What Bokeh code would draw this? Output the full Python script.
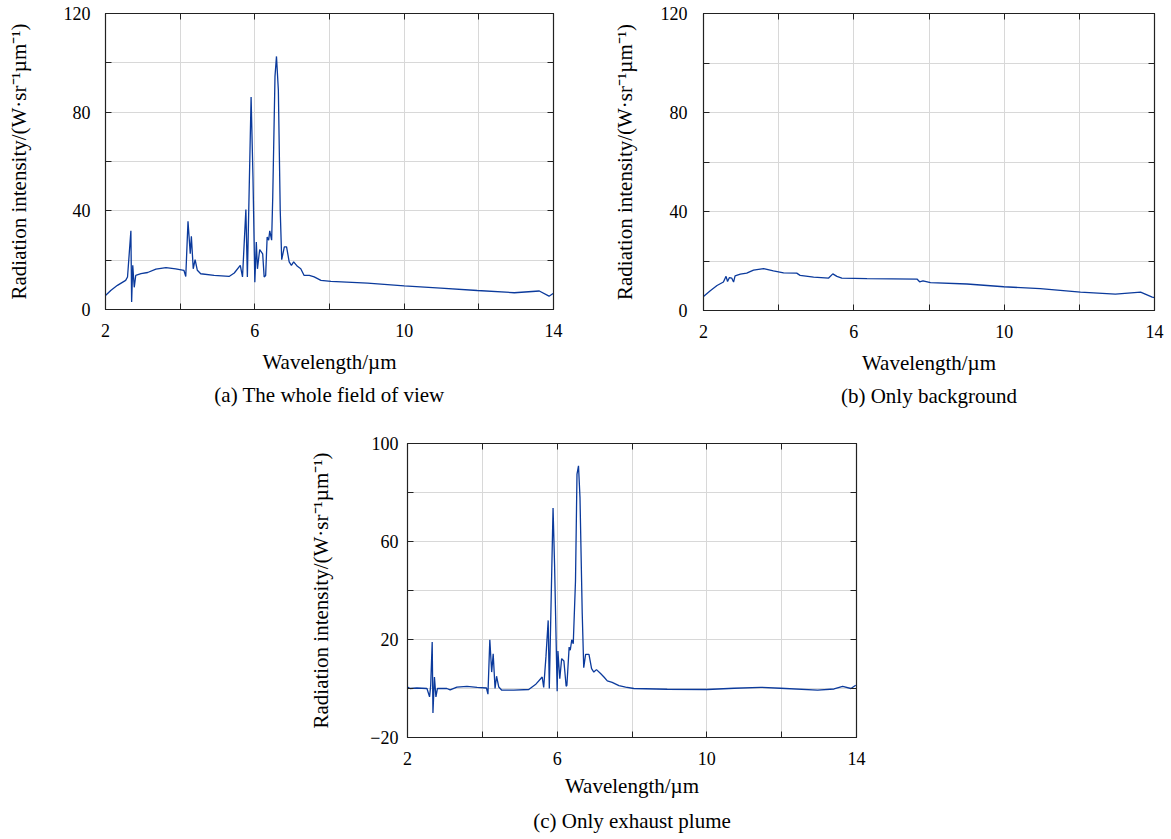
from bokeh.plotting import figure
from bokeh.models import FixedTicker, LinearAxis, Title, Range1d
from bokeh.layouts import column, row
from bokeh.embed import file_html
from bokeh.resources import INLINE

# ---------------- data ----------------
wl_a = [2.0, 2.14, 2.32, 2.54, 2.59, 2.68, 2.70, 2.73, 2.77, 2.81, 2.95, 3.13, 3.35, 3.62, 3.88,
        4.10, 4.15, 4.21, 4.27, 4.30, 4.35, 4.40, 4.46, 4.55, 4.91, 5.31, 5.45, 5.61, 5.67, 5.76,
        5.80, 5.90, 5.95, 6.00, 6.04, 6.07, 6.13, 6.21, 6.25, 6.29, 6.33, 6.37, 6.40, 6.45, 6.48,
        6.54, 6.58, 6.63, 6.68, 6.72, 6.79, 6.85, 6.92, 6.98, 7.04, 7.14, 7.23, 7.32, 7.46, 7.59,
        7.77, 8.04, 9.02, 10.0, 10.98, 11.96, 12.95, 13.62, 13.88, 14.0]
ri_a = [5.7, 7.7, 9.8, 11.8, 13.2, 31.9, 3.0, 17.9, 9.0, 13.8, 14.5, 15.0, 16.4, 17.0, 16.5,
        15.9, 13.4, 35.8, 22.6, 29.7, 16.5, 20.2, 15.9, 14.5, 13.8, 13.4, 14.8, 17.9, 13.2, 40.5,
        13.2, 86.1, 53.8, 11.1, 27.4, 16.5, 24.3, 22.6, 13.2, 13.8, 29.4, 28.1, 31.9, 28.1, 45.7,
        94.5, 102.6, 89.0, 40.3, 20.2, 25.4, 25.4, 19.3, 17.9, 19.3, 17.5, 16.5, 13.8, 13.8, 13.2,
        11.8, 11.4, 10.7, 9.6, 8.7, 7.7, 6.8, 7.5, 5.4, 6.6]

wl_b = [2.0, 2.18, 2.36, 2.53, 2.60, 2.64, 2.69, 2.75, 2.80, 2.84, 2.98, 3.15, 3.33, 3.60, 3.86,
        4.13, 4.48, 4.57, 4.93, 5.33, 5.44, 5.55, 5.68, 6.35, 7.68, 7.75, 7.84, 8.04, 9.01, 9.99,
        10.96, 12.03, 12.96, 13.63, 13.94, 14.0]
ri_b = [5.7, 8.0, 10.1, 11.5, 13.8, 11.7, 13.3, 13.1, 11.5, 14.0, 14.7, 15.1, 16.3, 16.9, 16.0,
        15.2, 15.1, 14.2, 13.5, 13.1, 14.8, 13.8, 13.1, 12.9, 12.7, 11.6, 12.0, 11.3, 10.7, 9.6,
        8.8, 7.4, 6.6, 7.4, 5.4, 5.2]

wl_c = [2.0, 2.07, 2.25, 2.52, 2.59, 2.62, 2.66, 2.68, 2.72, 2.76, 2.80, 3.05, 3.14, 3.32, 3.59,
        3.86, 4.11, 4.15, 4.20, 4.25, 4.29, 4.34, 4.38, 4.44, 4.52, 4.84, 5.24, 5.42, 5.60, 5.64,
        5.70, 5.76, 5.79, 5.89, 5.93, 6.00, 6.02, 6.07, 6.12, 6.18, 6.24, 6.26, 6.32, 6.35, 6.39,
        6.43, 6.49, 6.53, 6.57, 6.61, 6.67, 6.71, 6.76, 6.85, 6.92, 6.98, 7.05, 7.16, 7.25, 7.34,
        7.47, 7.65, 7.83, 8.05, 8.94, 10.01, 10.73, 11.44, 11.97, 12.96, 13.4, 13.63, 13.85, 13.98]
ri_c = [0.6, 0.0, 0.2, 0.0, -3.4, 1.3, 19.0, -10.0, 4.7, -3.4, 0.0, 0.0, -0.6, 0.6, 0.9,
        0.5, 0.2, -2.3, 19.9, 6.7, 14.2, 0.0, 5.0, 0.6, -0.7, -0.7, -0.4, 1.6, 4.7, 0.4,
        12.9, 27.8, 0.0, 73.7, 50.9, -1.1, 15.3, 4.0, 12.2, 11.2, 0.9, 1.3, 16.9, 15.6, 19.9,
        18.3, 44.0, 87.5, 90.9, 78.0, 30.5, 8.5, 13.9, 13.9, 8.1, 6.7, 7.7, 6.1, 4.7, 3.1,
        2.5, 1.2, 0.6, 0.0, -0.3, -0.4, 0.1, 0.5, 0.1, -0.7, -0.2, 0.9, 0.0, 1.3]

x_ticks = [2, 4, 6, 8, 10, 12, 14]
x_hidden = [4, 8, 12]
y_ticks_ab = [0, 20, 40, 60, 80, 100, 120]
y_hidden_ab = [20, 60, 100]
y_ticks_c = [-20, 0, 20, 40, 60, 80, 100]
y_hidden_c = [0, 40, 80]

captions = ["(a) The whole field of view", "(b) Only background", "(c) Only exhaust plume"]
x_label = "Wavelength/\u00b5m"
y_label = "Radiation intensity/(W\u00b7sr\u207b\u00b9\u00b5m\u207b\u00b9)"

FONT = "'Liberation Serif', 'Times New Roman', serif"
LINE = "#0b3a9c"
GRID = "#d8d8d8"
TICK_FS = "18px"
LABEL_FS = "21px"


def make(xs, ys, yr, yticks, yhidden, caption, bl, fw, br, bt, fh, bb,
         y_standoff, ylab_standoff, xlab_standoff, cap_standoff):
    p = figure(x_range=Range1d(2, 14), y_range=Range1d(*yr),
               frame_width=fw, frame_height=fh,
               min_border_left=bl, min_border_right=br,
               min_border_top=bt, min_border_bottom=bb,
               output_backend="svg", toolbar_location=None)
    p.line(xs, ys, line_color=LINE, line_width=1.3)

    p.outline_line_color = "#222222"
    p.outline_line_width = 1.2
    p.background_fill_color = "white"
    p.border_fill_color = "white"

    p.xgrid.ticker = FixedTicker(ticks=x_ticks)
    p.ygrid.ticker = FixedTicker(ticks=yticks)
    for g in (p.xgrid[0], p.ygrid[0]):
        g.grid_line_color = GRID
        g.grid_line_width = 1

    xa = p.xaxis[0]
    xa.ticker = FixedTicker(ticks=x_ticks)
    xa.major_label_overrides = {t: "" for t in x_hidden}
    xa.axis_label = x_label
    xa.major_label_standoff = 14
    xa.axis_label_standoff = xlab_standoff

    ya = p.yaxis[0]
    ya.ticker = FixedTicker(ticks=yticks)
    ov = {t: "" for t in yhidden}
    if yr[0] < 0:
        ov[yr[0]] = "\u2212" + str(abs(yr[0]))
    ya.major_label_overrides = ov
    ya.axis_label = y_label
    ya.major_label_standoff = y_standoff
    ya.axis_label_standoff = ylab_standoff
    ya.major_label_orientation = "horizontal"

    for ax in (xa, ya):
        ax.major_tick_in = 6
        ax.major_tick_out = 0
        ax.minor_tick_in = 0
        ax.minor_tick_out = 0
        ax.axis_line_color = "#222222"
        ax.major_tick_line_color = "#222222"
        ax.major_label_text_font = FONT
        ax.major_label_text_font_size = TICK_FS
        ax.major_label_text_color = "black"
        ax.axis_label_text_font = FONT
        ax.axis_label_text_font_size = LABEL_FS
        ax.axis_label_text_font_style = "normal"
        ax.axis_label_text_color = "black"

    # mirrored ticks on top and right (no labels)
    ra = LinearAxis(ticker=FixedTicker(ticks=yticks))
    ta = LinearAxis(ticker=FixedTicker(ticks=x_ticks))
    ra.major_label_overrides = {t: "" for t in yticks}
    ta.major_label_overrides = {t: "" for t in x_ticks}
    for ax in (ra, ta):
        ax.major_tick_in = 6
        ax.major_tick_out = 0
        ax.minor_tick_in = 0
        ax.minor_tick_out = 0
        ax.major_label_standoff = 0
        ax.axis_line_color = "#222222"
        ax.major_tick_line_color = "#222222"
    p.add_layout(ra, "right")
    p.add_layout(ta, "above")

    t = Title(text=caption, align="center", text_font=FONT, text_font_size=LABEL_FS,
              text_font_style="normal", text_color="black", standoff=cap_standoff)
    p.add_layout(t, "below")
    return p


pa = make(wl_a, ri_a, (0, 120), y_ticks_ab, y_hidden_ab, captions[0],
          105, 448, 55, 13, 296, 124, 15, 30, 10, 9)
pb = make(wl_b, ri_b, (0, 120), y_ticks_ab, y_hidden_ab, captions[1],
          95, 451, 15, 12, 297, 124, 16, 21, 10, 9)
pc = make(wl_c, ri_c, (-20, 100), y_ticks_c, y_hidden_c, captions[2],
          407, 449, 10, 10, 294, 100, 9, 34, 6, 12)

layout = column(row(pa, pb), pc)
open("out.html", "w").write(file_html(layout, INLINE))
